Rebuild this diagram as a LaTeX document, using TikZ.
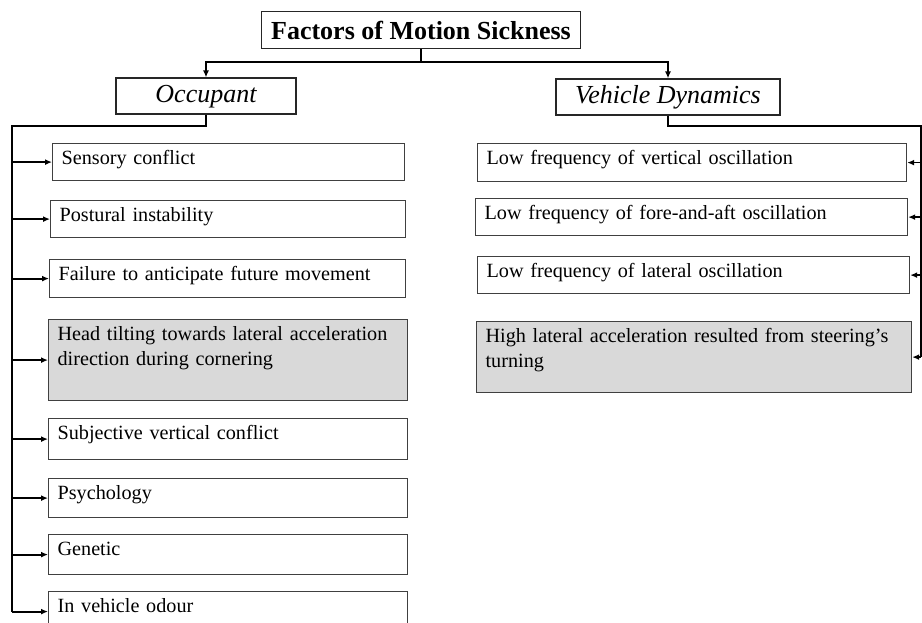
\documentclass[tikz,border=0pt]{standalone}
\usepackage{fontspec}
\setmainfont{Liberation Serif}
\usetikzlibrary{arrows.meta}
\tikzset{
  heading/.style={draw=black!85, line width=1.2pt, inner sep=0pt},
  factor/.style={draw=black!75, line width=1.2pt, anchor=north west, align=left,
    inner xsep=9pt, inner ysep=0pt, text height=21pt,
    font=\fontsize{20.2}{25}\selectfont},
  shaded/.style={fill=black!15},
  link/.style={line width=1.8pt, -{Latex[length=7pt,width=6pt]}},
  trunk/.style={line width=1.8pt}
}
\begin{document}
\begin{tikzpicture}[x=1pt,y=-1pt]
\useasboundingbox (0,0) rectangle (922,623);
\node[heading, minimum width=319pt, minimum height=37pt,
  font=\bfseries\fontsize{26}{30}\selectfont] (top) at (421,30) {Factors of Motion Sickness};
\node[heading, minimum width=180pt, minimum height=36pt, text height=17pt, text depth=3pt,
  font=\itshape\fontsize{26}{30}\selectfont] (occ) at (206,96) {Occupant};
\node[heading, minimum width=224pt, minimum height=36pt, text height=17pt, text depth=3pt,
  font=\itshape\fontsize{26}{30}\selectfont] (veh) at (668,97) {Vehicle Dynamics};

\node[factor, text width=334pt, text depth=16pt] (sens) at (52,143) {Sensory conflict};
\node[factor, text width=337pt, text depth=16pt] (post) at (50,200) {Postural instability};
\node[factor, text width=338pt, text depth=17pt] (fail) at (49,259) {Failure to anticipate future movement};
\node[factor, shaded, text width=341pt, text depth=60pt] (tilt) at (48,319)
  {\mbox{Head tilting towards lateral acceleration}\\direction during cornering};
\node[factor, text width=341pt, text depth=20pt] (subj) at (48,418) {Subjective vertical conflict};
\node[factor, text width=341pt, text depth=18pt] (psy) at (48,478) {Psychology};
\node[factor, text width=341pt, text depth=19pt] (gen) at (48,534) {Genetic};
\node[factor, text width=341pt, text depth=19pt] (odour) at (48,591) {In vehicle odour};

\node[factor, text width=411pt, text depth=17pt] (vert) at (477,143) {Low frequency of vertical oscillation};
\node[factor, text width=414pt, text depth=16pt] (fore) at (475,198) {Low frequency of fore-and-aft oscillation};
\node[factor, text width=414pt, text depth=16pt] (lat) at (477,256) {Low frequency of lateral oscillation};
\node[factor, shaded, text width=417pt, text depth=50pt] (steer) at (476,321)
  {\mbox{High lateral acceleration resulted from steering's}\\turning};

\coordinate (fork) at (421,62);
\coordinate (lspine) at (12,126);
\coordinate (rspine) at (921,126);

\draw[trunk] (top.south) -- (fork);
\draw[link] (fork) -| (occ.north);
\draw[link] (fork) -| (veh.north);

\draw[trunk] (occ.south) |- (lspine) -- (lspine |- odour.west);
\foreach \n in {sens,post,fail,tilt,subj,psy,gen,odour}
  \draw[link] (lspine |- \n.west) -- (\n.west);

\draw[trunk] (veh.south) |- (rspine) -- (rspine |- steer.east);
\foreach \n in {vert,fore,lat,steer}
  \draw[link] (rspine |- \n.east) -- (\n.east);
\end{tikzpicture}
\end{document}
